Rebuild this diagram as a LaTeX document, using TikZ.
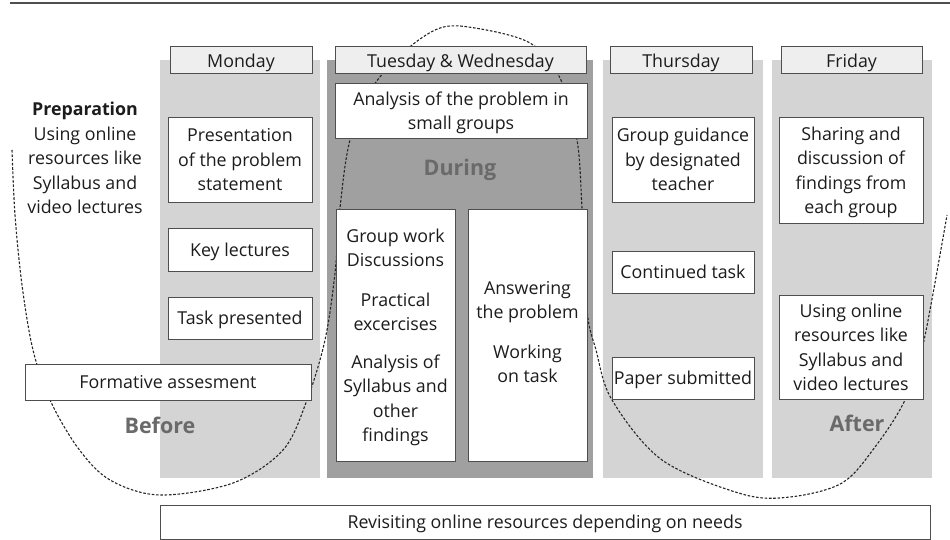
\documentclass[tikz,border=0pt]{standalone}
\usepackage{fontspec}
\setmainfont{Open Sans}
\definecolor{colLight}{HTML}{D4D4D4}
\definecolor{colDark}{HTML}{A0A0A0}
\definecolor{headFill}{HTML}{EEEEEE}
\definecolor{edgeGray}{HTML}{4E4E4E}
\definecolor{phaseGray}{HTML}{6A6A6A}
\definecolor{inkGray}{HTML}{1C1C1C}
\begin{document}
\begin{tikzpicture}[x=1pt,y=-1pt,
  txt/.style={font=\fontsize{17.8}{24.5}\selectfont, align=center, text=inkGray},
  daybox/.style={txt, draw=edgeGray, fill=headFill, line width=0.9pt, inner sep=0pt,
    minimum height=27pt, text height=16pt, text depth=0pt},
  taskbox/.style={txt, draw=edgeGray, fill=white, line width=0.9pt, inner sep=0pt, text depth=0pt},
  daycol/.style={draw=none, inner sep=0pt, anchor=north west, minimum height=418pt, minimum width=160pt},
  phaselabel/.style={font=\fontsize{21.5}{24}\selectfont\bfseries, text=phaseGray},
  loopline/.style={draw=black!85, line width=1.1pt, dash pattern=on 2.6pt off 1.7pt}
]
\useasboundingbox (0,0) rectangle (950,540);

% rule across the top
\draw[edgeGray, line width=1.1pt] (10,3) -- (950,3);

% day columns
\node[daycol, fill=colLight] (colMon) at (160,60) {};
\node[daycol, fill=colDark, minimum width=266pt] (colTue) at (327,60) {};
\node[daycol, fill=colLight] (colThu) at (603,60) {};
\node[daycol, fill=colLight] (colFri) at (772,60) {};

% before / during / after loop
\draw[loopline] plot[smooth, tension=0.55] coordinates {
  (12,150) (15,215) (22,285) (33,350) (50,400) (78,448) (110,480) (160,495)
  (233,483) (283,450) (307,400) (325,340) (335,273) (340,208) (350,140)
  (372,88) (405,51) (440,28) (475,28) (530,43) (560,78) (577,140) (582,208)
  (587,310) (596,350) (612,400) (662,460) (742,494) (790,497) (842,483)
  (875,447) (905,400) (923,345) (947,215)};

% day headers
\node[daybox, minimum width=142pt] (hMon) at (241,59.5) {Monday};
\node[daybox, minimum width=251pt] (hTue) at (460.5,59.5) {Tuesday \& Wednesday};
\node[daybox, minimum width=142pt] (hThu) at (681,59.5) {Thursday};
\node[daybox, minimum width=141pt] (hFri) at (851.5,59.5) {Friday};

% preparation
\node[txt] (prep) at (85,158) {\textbf{Preparation}\\Using online\\resources like\\Syllabus and\\video lectures};

% Monday
\node[taskbox, minimum width=144pt, minimum height=85pt] (pres) at (240,159.5) {Presentation\\of the problem\\statement};
\node[taskbox, minimum width=144pt, minimum height=43pt] (keylec) at (240,249.5) {Key lectures};
\node[taskbox, minimum width=144pt, minimum height=42pt] (taskpr) at (240,318) {Task presented};
\node[taskbox, minimum width=286pt, minimum height=36pt] (formative) at (168,382) {Formative assesment};
\node[phaselabel] (before) at (160,425) {Before};

% Tuesday & Wednesday
\node[taskbox, minimum width=252pt, minimum height=55pt] (analysis) at (461,110.5) {Analysis of the problem in\\small groups};
\node[phaselabel] (during) at (460,170) {During};
\node[taskbox, minimum width=119pt, minimum height=252pt] (groupwork) at (395.5,335) {Group work\\Discussions\\[15pt]Practical\\excercises\\[13pt]Analysis of\\Syllabus and\\other\\findings};
\node[taskbox, minimum width=119pt, minimum height=252pt, text depth=6pt] (answer) at (527.5,335) {Answering\\the problem\\[15pt]Working\\on task};

% Thursday
\node[taskbox, minimum width=142pt, minimum height=85pt] (guidance) at (683,159.5) {Group guidance\\by designated\\teacher};
\node[taskbox, minimum width=142pt, minimum height=42pt] (continued) at (683,272) {Continued task};
\node[taskbox, minimum width=142pt, minimum height=42pt] (paper) at (683,378) {Paper submitted};

% Friday
\node[taskbox, minimum width=144pt, minimum height=106pt] (sharing) at (851,170) {Sharing and\\discussion of\\findings from\\each group};
\node[taskbox, minimum width=144pt, minimum height=104pt] (online) at (851,347) {Using online\\resources like\\Syllabus and\\video lectures};
\node[phaselabel] (after) at (857,423) {After};

% bottom band
\node[taskbox, minimum width=770pt, minimum height=34pt] (revisit) at (545,522) {Revisiting online resources depending on needs};
\end{tikzpicture}
\end{document}
